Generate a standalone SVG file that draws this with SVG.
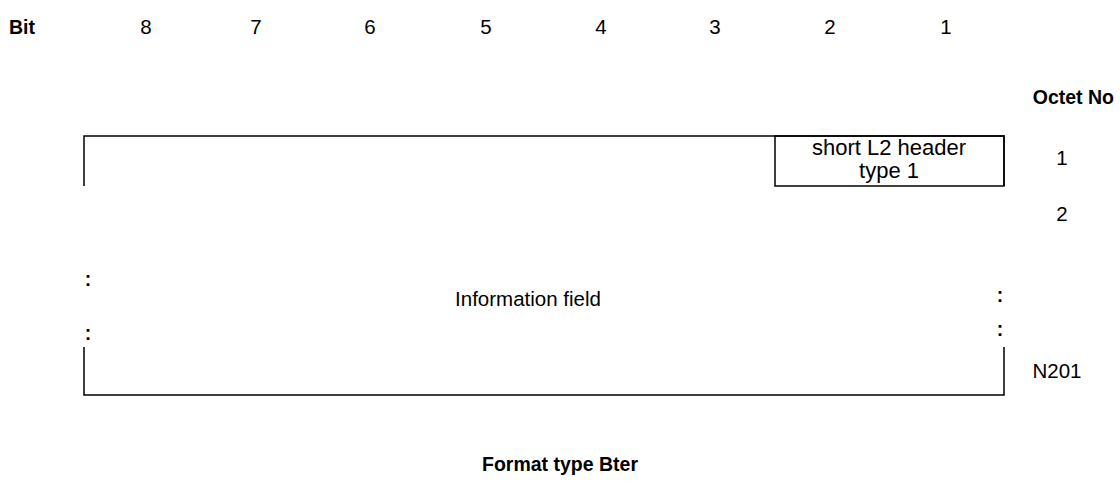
<svg xmlns="http://www.w3.org/2000/svg" width="1120" height="481" viewBox="0 0 1120 481">
<style>
text{font-family:"Liberation Sans",Arial,sans-serif;fill:#000}
.t{font-size:20.5px}
.b{font-weight:bold;font-size:19.5px}
.s{font-size:22px}
.ln{stroke:#000;stroke-width:1.5;fill:none}
</style>
<rect width="1120" height="481" fill="#fff"/>
<g id="header">
<text class="b" x="9" y="34">Bit</text>
<g class="t" text-anchor="middle">
<text x="146" y="34">8</text>
<text x="256" y="34">7</text>
<text x="370" y="34">6</text>
<text x="486" y="34">5</text>
<text x="601" y="34">4</text>
<text x="715" y="34">3</text>
<text x="830" y="34">2</text>
<text x="946" y="34">1</text>
</g>
<text class="b" x="1114" y="104" text-anchor="end">Octet No</text>
</g>
<g id="octets" class="t" text-anchor="middle">
<text x="1062" y="165">1</text>
<text x="1062" y="221">2</text>
<text x="1057" y="378">N201</text>
</g>
<g id="connectors">
<path class="ln" d="M84,186 V136 H1004 V186"/>
<path class="ln" d="M84,347 V395 H1004 V347"/>
</g>
<g id="l2header">
<rect class="ln" x="775" y="136" width="229" height="50"/>
<text class="s" x="889" y="155" text-anchor="middle">short L2 header</text>
<text class="s" x="889" y="178" text-anchor="middle">type 1</text>
</g>
<g id="info">
<text class="t" x="528" y="306" text-anchor="middle">Information field</text>
<text class="b" x="88" y="286" text-anchor="middle">:</text>
<text class="b" x="88" y="340" text-anchor="middle">:</text>
<text class="b" x="1000" y="302" text-anchor="middle">:</text>
<text class="b" x="1000" y="336" text-anchor="middle">:</text>
</g>
<text id="caption" class="b" x="560" y="471" text-anchor="middle">Format type Bter</text>
</svg>
